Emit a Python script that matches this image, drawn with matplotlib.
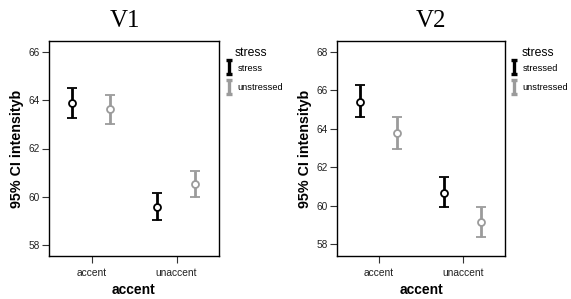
import matplotlib
matplotlib.use("Agg")
import matplotlib.pyplot as plt
import numpy as np
from matplotlib.path import Path
from matplotlib.lines import Line2D

plt.rcParams['font.family'] = ['Liberation Sans', 'DejaVu Sans']

categories = ["accent", "unaccent"]

# V1 panel: means and 95% CI bounds
v1_labels = ["stress", "unstressed"]
v1_mean = [[63.87, 59.58], [63.62, 60.52]]
v1_low = [[63.25, 59.03], [63.01, 59.97]]
v1_high = [[64.53, 60.14], [64.24, 61.08]]

# V2 panel
v2_labels = ["stressed", "unstressed"]
v2_mean = [[65.41, 60.68], [63.80, 59.18]]
v2_low = [[64.63, 59.92], [62.95, 58.40]]
v2_high = [[66.27, 61.48], [64.63, 59.96]]

colors = ["black", "#9b9b9b"]
offsets = [-0.23, 0.22]

# I-beam marker used in the legend
ibeam = Path([(-0.35, -1), (0.35, -1), (0, -1), (0, 1), (-0.35, 1), (0.35, 1)],
             [Path.MOVETO, Path.LINETO, Path.MOVETO, Path.LINETO, Path.MOVETO, Path.LINETO])

fig = plt.figure(figsize=(5.71, 2.99), dpi=100)


def panel(rect, title, title_x, labels, mean, low, high, ylim, yticks, leg_x, ttl_x):
    ax = fig.add_axes(rect)
    x = np.arange(len(categories))
    for i in range(2):
        m = np.array(mean[i])
        err = [m - np.array(low[i]), np.array(high[i]) - m]
        ax.errorbar(x + offsets[i], m, yerr=err, fmt='o', color=colors[i],
                    ecolor=colors[i], elinewidth=2.0, capsize=3.4, capthick=2.6,
                    markersize=5, markerfacecolor='white',
                    markeredgecolor=colors[i], markeredgewidth=1.3)
    ax.set_xlim(-0.5, 1.5)
    ax.set_ylim(*ylim)
    ax.set_yticks(yticks)
    ax.set_xticks(x)
    ax.set_xticklabels(categories)
    ax.tick_params(axis='y', length=5, width=0.8, pad=1.5, labelsize=7.3,
                   color='#333333', labelcolor='#222222')
    ax.tick_params(axis='x', length=5, width=0.8, pad=4, labelsize=7.4,
                   color='#333333', labelcolor='#222222')
    for s in ax.spines.values():
        s.set_linewidth(1.0)
    ax.set_xlabel("accent", fontsize=10, fontweight='bold', labelpad=3)
    ax.set_ylabel("95% CI intensityb", fontsize=10.3, fontweight='bold', labelpad=3)
    fig.text(title_x, 0.93, title, fontsize=18, family='Liberation Serif',
             ha='center', va='center')
    ax.text(ttl_x, 0.944, "stress", transform=ax.transAxes, fontsize=8.8,
            ha='left', va='center')
    handles = [Line2D([], [], linestyle='none', marker=ibeam, markersize=10.5,
                      markeredgewidth=2.4, markerfacecolor='none',
                      markeredgecolor=c) for c in colors]
    ax.legend(handles, labels, loc='upper left', bbox_to_anchor=(leg_x, 0.895),
              frameon=False, fontsize=6.7, handlelength=0.8, handletextpad=0.55,
              borderpad=0, borderaxespad=0, labelspacing=1.15)
    return ax


panel([49 / 571, 43 / 299, 170 / 571, 215 / 299], "V1", 124.5 / 571,
      v1_labels, v1_mean, v1_low, v1_high, (57.54, 66.46), [58, 60, 62, 64, 66],
      1.035, 1.094)
panel([337 / 571, 43 / 299, 168 / 571, 215 / 299], "V2", 431 / 571,
      v2_labels, v2_mean, v2_low, v2_high, (57.39, 68.57), [58, 60, 62, 64, 66, 68],
      1.03, 1.098)

fig.savefig("out.png", dpi=100)
